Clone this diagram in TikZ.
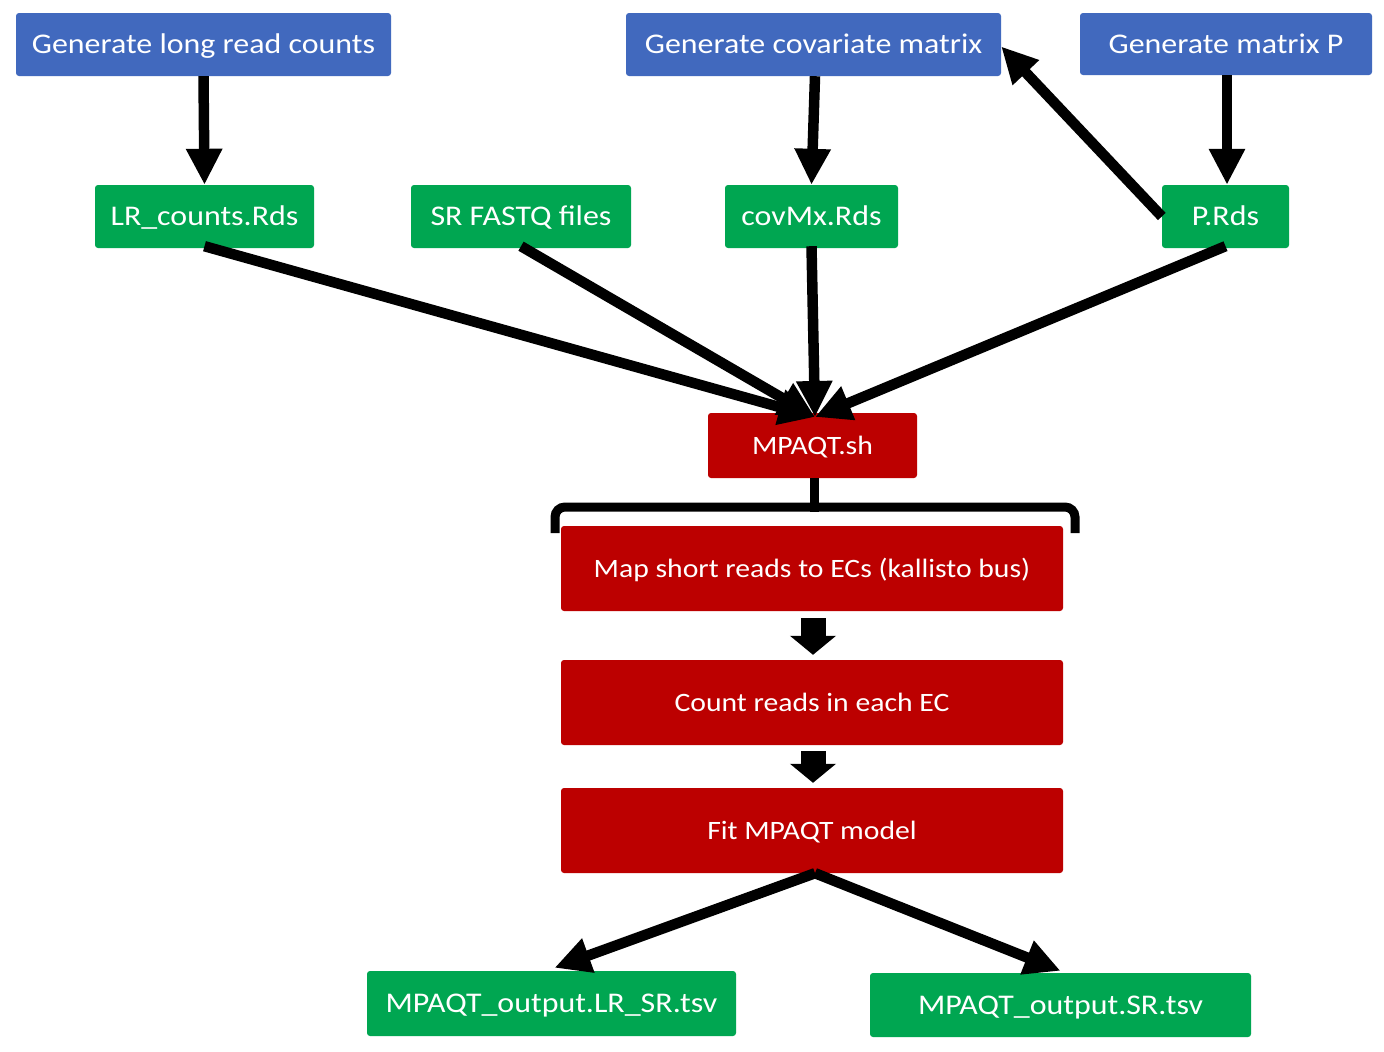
\documentclass[tikz,border=0pt]{standalone}
\usepackage{fontspec}
\setmainfont{Carlito}[FakeStretch=1.12]
\usetikzlibrary{arrows.meta}
\definecolor{stepblue}{HTML}{4169BE}
\definecolor{filegreen}{HTML}{00A651}
\definecolor{runred}{HTML}{BC0000}
\begin{document}
\begin{tikzpicture}[x=1pt,y=-1pt,
  box/.style={rectangle,rounded corners=3pt,inner sep=0pt,text=white,
    text height=18pt,text depth=0pt,
    font=\fontsize{28.5}{32}\selectfont},
  stepbox/.style={box,fill=stepblue},
  filebox/.style={box,fill=filegreen},
  runbox/.style={box,fill=runred,text height=17pt,font=\fontsize{26.5}{30}\selectfont},
  arr/.style={line width=10.5pt,-{Triangle[width=34pt,length=36pt]}},
  bigarr/.style={line width=25pt,-{Triangle[width=45pt,length=19pt]}},
  brace/.style={line width=9pt,rounded corners=10pt}]
\useasboundingbox[fill=white] (0,0) rectangle (1384,1052);

% generators
\node[stepbox,minimum width=375pt,minimum height=63pt] (genlr) at (203.5,44.5) {Generate long read counts};
\node[stepbox,minimum width=375pt,minimum height=63pt] (gencov) at (813.5,44.5) {Generate covariate matrix};
\node[stepbox,minimum width=292pt,minimum height=62pt] (genp) at (1226,44) {Generate matrix P};

% input files
\node[filebox,minimum width=219pt,minimum height=63pt] (lr) at (204.5,216.5) {LR\_counts.Rds};
\node[filebox,minimum width=220pt,minimum height=63pt] (sr) at (521,216.5) {SR FASTQ files};
\node[filebox,minimum width=173pt,minimum height=63pt] (cov) at (811.5,216.5) {covMx.Rds};
\node[filebox,minimum width=127pt,minimum height=63pt] (prds) at (1225.5,216.5) {P.Rds};

% pipeline
\node[runbox,minimum width=209pt,minimum height=65pt] (sh) at (812.5,445.5) {MPAQT.sh};
\node[runbox,minimum width=502pt,minimum height=85pt] (map) at (812,568.5) {Map short reads to ECs (kallisto bus)};
\node[runbox,minimum width=502pt,minimum height=85pt] (count) at (812,702.5) {Count reads in each EC};
\node[runbox,minimum width=502pt,minimum height=85pt] (fit) at (812,830.5) {Fit MPAQT model};

% outputs
\node[filebox,minimum width=369pt,minimum height=65pt] (olr) at (551.5,1003.5) {MPAQT\_output.LR\_SR.tsv};
\node[filebox,minimum width=381pt,minimum height=64pt] (osr) at (1060.5,1005) {MPAQT\_output.SR.tsv};

% generator arrows
\draw[arr] (genlr.south) -- (lr.north);
\draw[arr] ([xshift=1.5pt]gencov.south) -- (cov.north);
\draw[arr] ([xshift=1pt]genp.south) -- ([xshift=1.5pt]prds.north);
\draw[arr] (prds.west) -- ([yshift=-2pt]gencov.east);

% inputs into the script
\coordinate (shin) at (815,417);
\draw[arr] ([yshift=2pt]lr.south) -- (shin);
\draw[arr] ([yshift=2pt]sr.south) -- (shin);
\draw[arr] ([yshift=2pt]cov.south) -- (shin);
\draw[arr] ([yshift=2pt]prds.south) -- (shin);

% brace grouping the script steps
\coordinate (bl) at (555,533);
\coordinate (br) at (1075,533);
\draw[brace] (bl) -- (555,507) -- (1075,507) -- (br);
\draw[line width=9pt] ([xshift=2pt]sh.south) -- (814.5,512);

% step arrows
\draw[bigarr,shorten <=7pt,shorten >=5pt] ([xshift=1pt]map.south) -- ([xshift=1pt]count.north);
\draw[bigarr,shorten <=6pt,shorten >=5pt] ([xshift=1pt]count.south) -- ([xshift=1pt]fit.north);

% outputs
\draw[arr] ([xshift=3pt]fit.south) -- ([xshift=3pt,yshift=3pt]olr.north);
\draw[arr] ([xshift=3pt]fit.south) -- ([yshift=2pt]osr.north);
\end{tikzpicture}
\end{document}
